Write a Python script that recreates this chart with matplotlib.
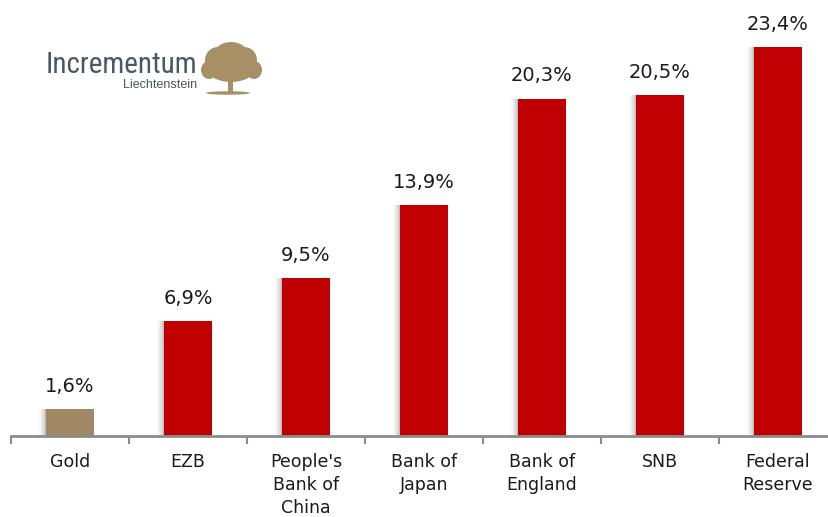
import matplotlib
matplotlib.use("Agg")
import matplotlib.pyplot as plt
from matplotlib import font_manager
from matplotlib.patches import Ellipse, Rectangle
import numpy as np

categories = ["Gold", "EZB", "People's\nBank of\nChina", "Bank of\nJapan", "Bank of\nEngland", "SNB", "Federal\nReserve"]
values = [1.6, 6.9, 9.5, 13.9, 20.3, 20.5, 23.4]
value_labels = ["1,6%", "6,9%", "9,5%", "13,9%", "20,3%", "20,5%", "23,4%"]
colors = ["#a08964", "#c00000", "#c00000", "#c00000", "#c00000", "#c00000", "#c00000"]

W, H = 829, 517
FONT = "DejaVu Sans"

# pick a condensed font for the logo if one exists
names = {f.name for f in font_manager.fontManager.ttflist}
logo_font, logo_size = "Liberation Sans", 18.5
for cand in ["Liberation Sans Narrow", "DejaVu Sans Condensed", "Roboto Condensed", "Open Sans Condensed"]:
    if cand in names:
        logo_font, logo_size = cand, 21
        break

fig = plt.figure(figsize=(W/100, H/100), dpi=100)
ax = fig.add_axes([11/W, (H-436)/H, 826/W, 432/H])
x = np.arange(len(categories))

# soft shadows on left side
for k, a in enumerate([0.08, 0.07, 0.05, 0.04, 0.03]):
    ax.bar(x - 0.012 - 0.012*k, values, width=0.4, color="black", alpha=a, zorder=1, linewidth=0)
ax.bar(x, values, width=0.4, color=colors, zorder=2, linewidth=0)

for xi, v, lab in zip(x, values, value_labels):
    ax.annotate(lab, (xi, v), xytext=(0, 12.5), textcoords="offset points",
                ha="center", va="baseline", fontsize=14, family=FONT, color="#1a1a1a")

ax.set_xlim(-0.5, len(categories) - 0.5)
ax.set_ylim(0, 26)
ax.set_xticks(x)
ax.set_xticklabels(categories, fontsize=12.5, family=FONT, color="#1a1a1a", linespacing=1.36)
ax.tick_params(axis="x", which="major", length=0, pad=12)
ax.set_xticks(np.arange(-0.5, len(categories), 1.0), minor=True)
ax.tick_params(axis="x", which="minor", length=6, width=1.5, color="#8c8c8c", direction="out")
ax.set_yticks([])
for s in ["top", "right", "left"]:
    ax.spines[s].set_visible(False)
ax.spines["bottom"].set_color("#8c8c8c")
ax.spines["bottom"].set_linewidth(2)

# logo
fig.text(46/W, 1 - 73/H, "Incrementum", fontsize=logo_size, family=logo_font,
         color="#485864", ha="left", va="baseline")
fig.text(197/W, 1 - 88/H, "Liechtenstein", fontsize=9, family="Liberation Sans",
         color="#485864", ha="right", va="baseline")
tree_col = "#a89066"
lax = fig.add_axes([200/W, 1 - 100/H, 64/W, 60/H])
lax.set_xlim(0, 64); lax.set_ylim(0, 60)
lax.axis("off")
for (cx, cy, w, h) in [(31, 34, 52, 32), (18, 40, 26, 26), (44, 40, 26, 26),
                       (31, 47, 32, 22), (9, 30, 16, 18), (54, 30, 16, 18)]:
    lax.add_patch(Ellipse((cx, cy), w, h, color=tree_col, linewidth=0))
lax.add_patch(Rectangle((28.5, 8), 5, 16, color=tree_col, linewidth=0))
lax.add_patch(Ellipse((28, 7), 44, 3.5, color=tree_col, linewidth=0))

fig.savefig("out.png", dpi=100)
